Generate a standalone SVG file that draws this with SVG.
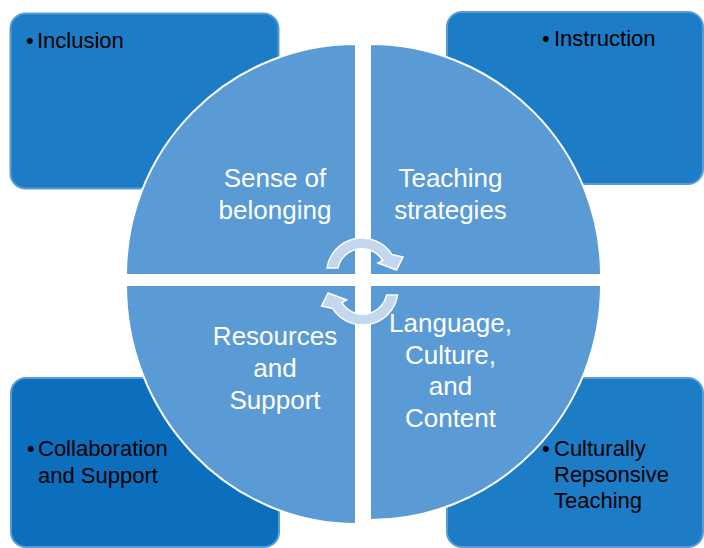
<svg xmlns="http://www.w3.org/2000/svg" width="704" height="548" viewBox="0 0 704 548">
<style>
.box{stroke:#5B9BD5;stroke-width:2}
.bt{font-family:"Liberation Sans",Arial,sans-serif;font-size:22px;fill:#000}
.q{fill:#5B9BD5;stroke:#fff;stroke-width:2}
.qt{font-family:"Liberation Sans",Arial,sans-serif;font-size:26px;fill:#fff;text-anchor:middle}
.arr{fill:#C3D7EE;stroke:#fff;stroke-width:1.5;stroke-linejoin:miter}
</style>
<rect width="704" height="548" fill="#fff"/>
<g id="box-inclusion">
<rect class="box" x="10.5" y="13.5" width="268" height="175" rx="15" fill="#1C7CC5"/>
<text class="bt" x="26" y="48">•<tspan x="37">Inclusion</tspan></text>
</g>
<g id="box-instruction">
<rect class="box" x="447" y="12" width="256" height="172" rx="15" fill="#1C7CC5"/>
<text class="bt" x="542" y="46">•<tspan x="554">Instruction</tspan></text>
</g>
<g id="box-collaboration">
<rect class="box" x="11" y="378" width="268" height="169" rx="15" fill="#0B6FBE"/>
<text class="bt" x="27" y="456">•<tspan x="38">Collaboration</tspan></text>
<text class="bt" x="38" y="483">and Support</text>
</g>
<g id="box-crt">
<rect class="box" x="447" y="378" width="256" height="169" rx="15" fill="#1C7CC5"/>
<text class="bt" x="542" y="456">•<tspan x="554">Culturally</tspan></text>
<text class="bt" x="554" y="482">Repsonsive</text>
<text class="bt" x="554" y="508">Teaching</text>
</g>
<g id="q-belonging">
<path class="q" d="M356,275 L126,275 A230,231 0 0 1 356,44 Z"/>
<text class="qt" x="275" y="187">Sense of</text>
<text class="qt" x="275" y="219">belonging</text>
</g>
<g id="q-strategies">
<path class="q" d="M370,275 L370,44 A231,231 0 0 1 601,275 Z"/>
<text class="qt" x="450.5" y="187">Teaching</text>
<text class="qt" x="450.5" y="219">strategies</text>
</g>
<g id="q-resources">
<path class="q" d="M356,285 L356,524 A230,239 0 0 1 126,285 Z"/>
<text class="qt" x="275" y="345">Resources</text>
<text class="qt" x="275" y="377">and</text>
<text class="qt" x="275" y="409">Support</text>
</g>
<g id="q-language">
<path class="q" d="M370,285 L601,285 A231,235 0 0 1 370,520 Z"/>
<text class="qt" x="450.5" y="332">Language,</text>
<text class="qt" x="450.5" y="364">Culture,</text>
<text class="qt" x="450.5" y="395">and</text>
<text class="qt" x="450.5" y="427">Content</text>
</g>
<g id="connectors">
<path class="arr" d="M327,268 A35.4,35.4 0 0 1 392,254.6 L403,257 L396.5,270 L378,263 L382.7,260.4 A24.4,24.4 0 0 0 338,268 Z"/>
<path class="arr" transform="rotate(180 362.3 281.5)" d="M327,268 A35.4,35.4 0 0 1 392,254.6 L403,257 L396.5,270 L378,263 L382.7,260.4 A24.4,24.4 0 0 0 338,268 Z"/>
</g>
</svg>
